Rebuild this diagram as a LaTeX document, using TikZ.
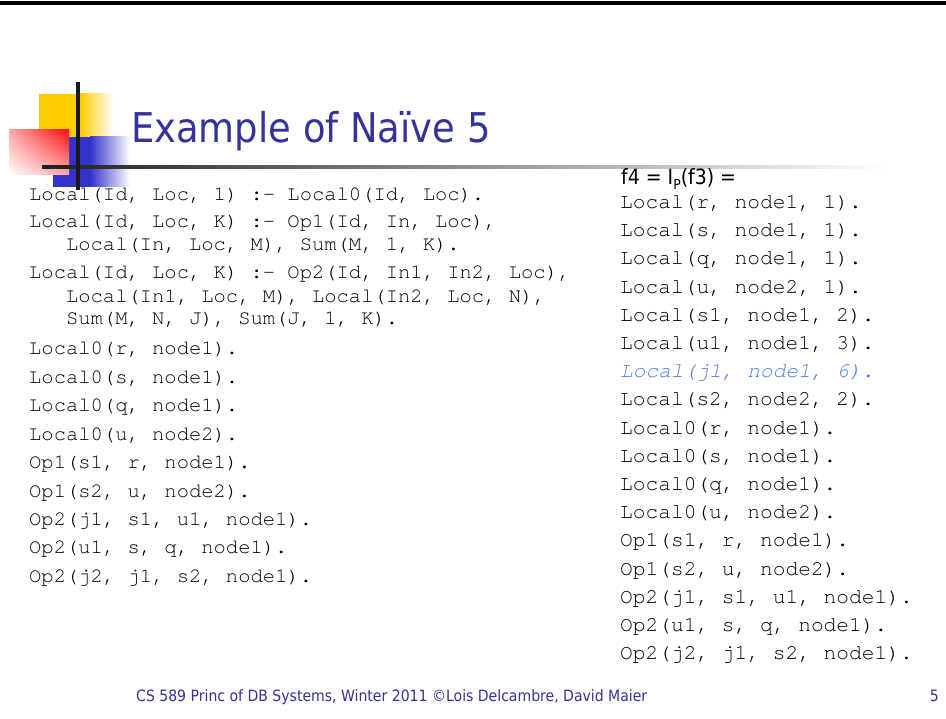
\documentclass[tikz,border=0pt]{standalone}
\usepackage{fontspec}
\usetikzlibrary{shadings}
\setmainfont{DejaVu Sans}
\newfontfamily\titlefont[FakeStretch=0.9]{DejaVu Sans}
\newfontfamily\tahomafont[FakeStretch=0.9]{DejaVu Sans}
\newfontfamily\monofont{TeX Gyre Cursor}
\definecolor{titleblue}{HTML}{333399}
\definecolor{hiblue}{HTML}{4D7CF2}
\definecolor{logoyellow}{HTML}{FFCC00}
\definecolor{logoblue}{HTML}{3333CC}
\definecolor{logored}{HTML}{FF1010}
\tikzset{
  lcode/.style={anchor=base west, inner sep=0pt, font=\monofont\fontsize{20.5}{20.5}\selectfont},
  rcode/.style={anchor=base west, inner sep=0pt, font=\monofont\fontsize{21.2}{21.2}\selectfont},
  hicode/.style={rcode, text=hiblue, font=\monofont\itshape\fontsize{21.2}{21.2}\selectfont},
  foottext/.style={inner sep=0pt, text=titleblue, font=\tahomafont\fontsize{15.6}{15.6}\selectfont}
}
\begin{document}
\begin{tikzpicture}[x=1pt,y=-1pt]
\useasboundingbox (0,0) rectangle (946,719);
\fill[white] (0,0) rectangle (946,719);
% top border
\fill[black] (0,1) rectangle (946,5);
% logo
\fill[logoyellow] (39,94) rectangle (80,138);
\shade[left color=logoyellow, right color=white] (80,94) rectangle (113,138);
\fill[logoblue] (53,137) rectangle (90,187);
\shade[left color=logoblue, right color=white] (90,137) rectangle (130,187);
\shade[upper left=red!35, upper right=logored, lower left=white, lower right=red!35] (9,130) rectangle (69,175);
\shade[left color=black!88, right color=white] (42,165.5) rectangle (890,169);
\fill[black!90] (76,82) rectangle (80,190);
% title
\node[anchor=base west, inner sep=0pt, text=titleblue, font=\titlefont\fontsize{41}{41}\selectfont] (title) at (131,143) {Example of Naïve 5};
% left column
\node[lcode] (l1) at (29,200.5) {Local(Id, Loc, 1) :- Local0(Id, Loc).};
\node[lcode] (l2) at (29,227.5) {Local(Id, Loc, K) :- Op1(Id, In, Loc),};
\node[lcode] (l3) at (29,251) {\ \ \ Local(In, Loc, M), Sum(M, 1, K).};
\node[lcode] (l4) at (29,279) {Local(Id, Loc, K) :- Op2(Id, In1, In2, Loc),};
\node[lcode] (l5) at (29,302.5) {\ \ \ Local(In1, Loc, M), Local(In2, Loc, N),};
\node[lcode] (l6) at (29,325) {\ \ \ Sum(M, N, J), Sum(J, 1, K).};
\node[lcode] (l7) at (29,355) {Local0(r, node1).};
\node[lcode] (l8) at (29,383.4) {Local0(s, node1).};
\node[lcode] (l9) at (29,411.8) {Local0(q, node1).};
\node[lcode] (l10) at (29,440.2) {Local0(u, node2).};
\node[lcode] (l11) at (29,468.6) {Op1(s1, r, node1).};
\node[lcode] (l12) at (29,497) {Op1(s2, u, node2).};
\node[lcode] (l13) at (29,525.4) {Op2(j1, s1, u1, node1).};
\node[lcode] (l14) at (29,553.8) {Op2(u1, s, q, node1).};
\node[lcode] (l15) at (29,582.2) {Op2(j2, j1, s2, node1).};
% right column
\node[anchor=base west, inner sep=0pt, font=\tahomafont\fontsize{21}{21}\selectfont] (f4) at (621,185) {f4 = I\raisebox{-0.22em}{\fontsize{13.8}{13.8}\selectfont P}(f3) =};
\node[rcode] (r1) at (620,208.5) {Local(r, node1, 1).};
\node[rcode] (r2) at (620,236.7) {Local(s, node1, 1).};
\node[rcode] (r3) at (620,264.9) {Local(q, node1, 1).};
\node[rcode] (r4) at (620,293.1) {Local(u, node2, 1).};
\node[rcode] (r5) at (620,321.3) {Local(s1, node1, 2).};
\node[rcode] (r6) at (620,349.5) {Local(u1, node1, 3).};
\node[hicode] (r7) at (620,377.7) {Local(j1, node1, 6).};
\node[rcode] (r8) at (620,405.9) {Local(s2, node2, 2).};
\node[rcode] (r9) at (620,434.1) {Local0(r, node1).};
\node[rcode] (r10) at (620,462.3) {Local0(s, node1).};
\node[rcode] (r11) at (620,490.5) {Local0(q, node1).};
\node[rcode] (r12) at (620,518.7) {Local0(u, node2).};
\node[rcode] (r13) at (620,546.9) {Op1(s1, r, node1).};
\node[rcode] (r14) at (620,575.1) {Op1(s2, u, node2).};
\node[rcode] (r15) at (620,603.3) {Op2(j1, s1, u1, node1).};
\node[rcode] (r16) at (620,631.5) {Op2(u1, s, q, node1).};
\node[rcode] (r17) at (620,659.7) {Op2(j2, j1, s2, node1).};
% footer
\node[foottext, anchor=base west] (foot) at (136,701) {CS 589 Princ of DB Systems, Winter 2011 ©Lois Delcambre, David Maier};
\node[foottext, anchor=base east] (pageno) at (939,701) {5};
\end{tikzpicture}
\end{document}
